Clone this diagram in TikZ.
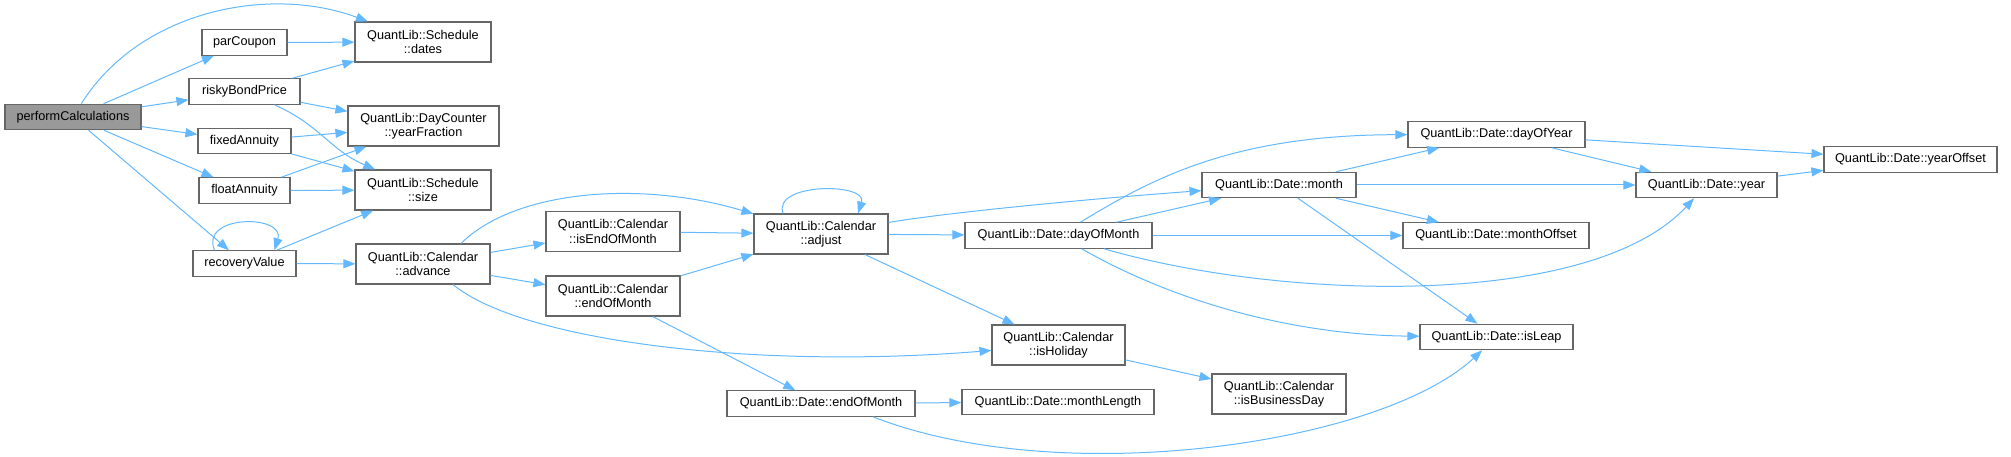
\documentclass[tikz,border=0pt]{standalone}
\usepackage{fontspec}
\setmainfont{Liberation Sans}
\usetikzlibrary{arrows.meta}
\definecolor{edgeblue}{HTML}{63B8FF}
\definecolor{boxgray}{HTML}{666666}
\definecolor{fillgray}{HTML}{999999}
\begin{document}
\begin{tikzpicture}[x=1pt,y=-1pt,
  fn/.style={draw=boxgray,fill=white,line width=1.1pt,inner sep=0pt,align=center,font=\fontsize{12.7}{14.5}\selectfont},
  oneline/.style={minimum height=25.5},
  twoline/.style={minimum height=40},
  call/.style={draw=edgeblue,line width=1pt,-{Triangle[length=12pt,width=9pt]}}]
\useasboundingbox (0,0) rectangle (2011,457);
\node[fn,oneline,fill=fillgray,minimum width=136] (perf) at (73,117) {performCalculations};
\node[fn,oneline,minimum width=85] (par) at (244.5,42.5) {parCoupon};
\node[fn,oneline,minimum width=111] (risky) at (244.5,91.5) {riskyBondPrice};
\node[fn,oneline,minimum width=93] (fixed) at (244.5,141) {fixedAnnuity};
\node[fn,oneline,minimum width=91] (float) at (244.5,190.5) {floatAnnuity};
\node[fn,oneline,minimum width=103] (recov) at (244.5,263.5) {recoveryValue};
\node[fn,twoline,minimum width=136] (dates) at (423,42) {QuantLib::Schedule\\::dates};
\node[fn,twoline,minimum width=151] (yfrac) at (423.5,126) {QuantLib::DayCounter\\::yearFraction};
\node[fn,twoline,minimum width=136] (size) at (423,190) {QuantLib::Schedule\\::size};
\node[fn,twoline,minimum width=134] (advance) at (423,264) {QuantLib::Calendar\\::advance};
\node[fn,twoline,minimum width=134] (iseom) at (613,231.5) {QuantLib::Calendar\\::isEndOfMonth};
\node[fn,twoline,minimum width=134] (caleom) at (613,296) {QuantLib::Calendar\\::endOfMonth};
\node[fn,twoline,minimum width=134] (adjust) at (821,234) {QuantLib::Calendar\\::adjust};
\node[fn,twoline,minimum width=133] (holiday) at (1058.5,345) {QuantLib::Calendar\\::isHoliday};
\node[fn,oneline,minimum width=188] (dateeom) at (821,403.5) {QuantLib::Date::endOfMonth};
\node[fn,oneline,minimum width=192] (mlength) at (1058,402) {QuantLib::Date::monthLength};
\node[fn,oneline,minimum width=187] (dom) at (1058.5,235.5) {QuantLib::Date::dayOfMonth};
\node[fn,twoline,minimum width=134] (busday) at (1279,394) {QuantLib::Calendar\\::isBusinessDay};
\node[fn,oneline,minimum width=154] (month) at (1279,185) {QuantLib::Date::month};
\node[fn,oneline,minimum width=177] (doy) at (1496.5,134.5) {QuantLib::Date::dayOfYear};
\node[fn,oneline,minimum width=186] (moffset) at (1496,235.5) {QuantLib::Date::monthOffset};
\node[fn,oneline,minimum width=153] (leap) at (1496.5,337) {QuantLib::Date::isLeap};
\node[fn,oneline,minimum width=141] (year) at (1706.5,185) {QuantLib::Date::year};
\node[fn,oneline,minimum width=173] (yoffset) at (1910.5,159.5) {QuantLib::Date::yearOffset};
\draw[call] (perf) .. controls (140,10) and (270,-15) .. (dates);
\draw[call] (perf) -- (par);
\draw[call] (perf) -- (risky);
\draw[call] (perf) -- (fixed);
\draw[call] (perf) -- (float);
\draw[call] (perf) -- (recov);
\draw[call] (par) -- (dates);
\draw[call] (risky) -- (dates);
\draw[call] (risky) -- (yfrac);
\draw[call] (risky) .. controls (320,125) and (330,150) .. (size);
\draw[call] (fixed) -- (yfrac);
\draw[call] (fixed) -- (size);
\draw[call] (float) -- (yfrac);
\draw[call] (float) -- (size);
\draw[call] ([xshift=-30pt]recov.north) .. controls +(-15,-36) and +(11,-36) .. ([xshift=30pt]recov.north);
\draw[call] (recov) -- (size);
\draw[call] (recov) -- (advance);
\draw[call] ([xshift=38pt]advance.north) .. controls (515,190) and (640,180) .. (adjust);
\draw[call] (advance) -- (iseom);
\draw[call] (advance) -- (caleom);
\draw[call] ([xshift=30pt]advance.south) .. controls (520,340) and (750,370) .. (holiday);
\draw[call] (iseom) -- (adjust);
\draw[call] (caleom) -- (adjust);
\draw[call] ([xshift=-38pt]adjust.north) .. controls +(-11,-31) and +(10,-31) .. ([xshift=37pt]adjust.north);
\draw[call] (adjust) .. controls (950,212) and (1100,198) .. (month);
\draw[call] (adjust) -- (dom);
\draw[call] (adjust) -- (holiday);
\draw[call] (caleom) -- (dateeom);
\draw[call] (dateeom) -- (mlength);
\draw[call] ([xshift=52pt]dateeom.south) .. controls (1060,490) and (1380,445) .. (leap);
\draw[call] (dom) -- (month);
\draw[call] (dom) .. controls (1150,180) and (1230,135) .. (doy);
\draw[call] (dom) -- (moffset);
\draw[call] (dom) .. controls (1280,300) and (1590,310) .. (year);
\draw[call] (dom) .. controls (1180,305) and (1300,335) .. (leap);
\draw[call] (holiday) -- (busday);
\draw[call] (month) -- (doy);
\draw[call] (month) -- (year);
\draw[call] (month) -- (moffset);
\draw[call] (month) -- (leap);
\draw[call] (doy) -- (yoffset);
\draw[call] (doy) -- (year);
\draw[call] (year) -- (yoffset);
\end{tikzpicture}
\end{document}
